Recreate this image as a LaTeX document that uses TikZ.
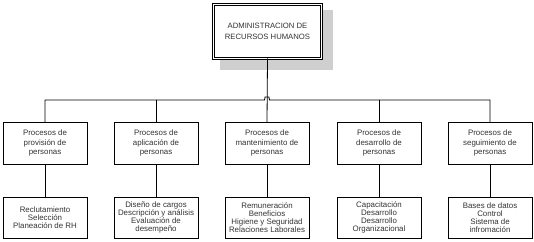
\documentclass[tikz,border=0pt]{standalone}
\usepackage{fontspec}
\setmainfont{Liberation Sans}
\begin{document}
\begin{tikzpicture}[x=1pt,y=-1pt,
  line width=0.8pt,
  txt/.style={text=black!80},
  topbox/.style={draw, double, double distance=1.4pt, minimum width=108pt, minimum height=54pt,
    align=center, txt, font=\fontsize{7.7}{10.5}\selectfont, inner sep=1pt, outer sep=0pt},
  proc/.style={draw, minimum width=84pt, minimum height=42pt, align=center, txt,
    font=\fontsize{7.9}{9.4}\selectfont, inner sep=1pt, outer sep=0pt},
  sub/.style={proc, minimum height=41pt, font=\fontsize{7.9}{8.2}\selectfont}]
\useasboundingbox (0,0) rectangle (534,241);
\fill[gray!38] (220,10) rectangle (333,70);
\node[topbox, fill=white] (top) at (267.5,31.5) {ADMINISTRACION DE\\RECURSOS HUMANOS};
\node[proc] (p1) at (45,143) {Procesos de\\provisión de\\personas};
\node[proc] (p2) at (156,143) {Procesos de\\aplicación de\\personas};
\node[proc] (p3) at (267,143) {Procesos de\\mantenimiento de\\personas};
\node[proc] (p4) at (379,143) {Procesos de\\desarrollo de\\personas};
\node[proc] (p5) at (490,143) {Procesos de\\seguimiento de\\personas};
\node[sub] (s1) at (45,217.5) {Reclutamiento\\Selección\\Planeación de RH};
\node[sub] (s2) at (156,217.5) {Diseño de cargos\\Descripción y análisis\\Evaluación de\\desempeño};
\node[sub] (s3) at (267,217.5) {Remuneración\\Beneficios\\Higiene y Seguridad\\Relaciones Laborales};
\node[sub] (s4) at (379,217.5) {Capacitación\\Desarrollo\\Desarrollo\\Organizacional};
\node[sub] (s5) at (490,217.5) {Bases de datos\\Control\\Sistema de\\infromación};
\coordinate (bus) at (0,100);
\coordinate (jl) at (264.5,100);
\draw (p1.north) -- (p1.north |- bus) -- (jl) -- ++(0.6,-3) -- ++(3.8,0) -- ++(0.6,3) -- (p5.north |- bus) -- (p5.north);
\draw (p2.north) -- (p2.north |- bus);
\draw (p4.north) -- (p4.north |- bus);
\draw (top.south) -- (p3.north);
\foreach \i in {1,...,5} \draw (p\i.south) -- (s\i.north);
\end{tikzpicture}
\end{document}
